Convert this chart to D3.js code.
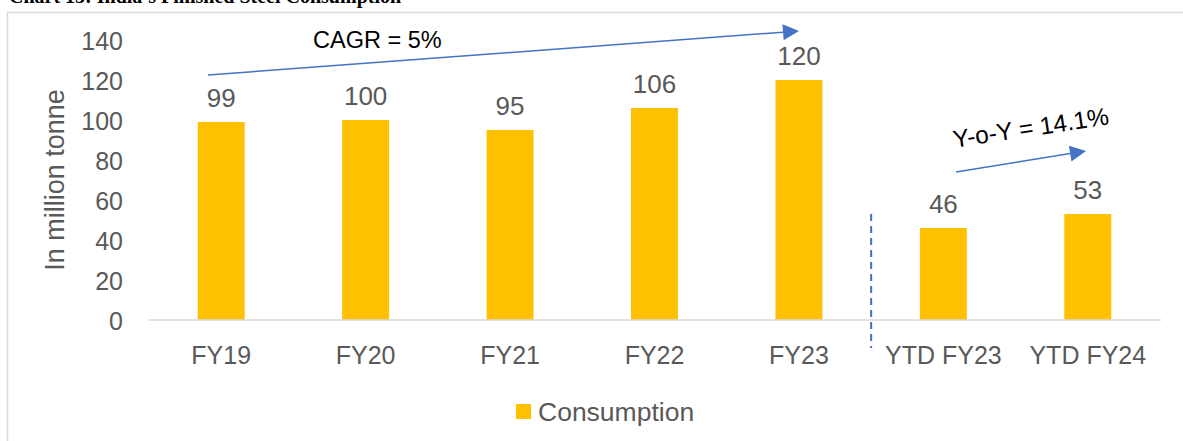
<!DOCTYPE html>
<html>
<head>
<meta charset="utf-8">
<script src="https://cdn.jsdelivr.net/npm/d3@7"></script>
<style>
  html, body { margin: 0; padding: 0; background: #fff; }
  svg { display: block; }
  text { font-family: "Liberation Sans", "DejaVu Sans", sans-serif; }
</style>
</head>
<body>
<svg id="chart" width="1183" height="441"></svg>
<script>
// ---- data ----
const categories = ["FY19", "FY20", "FY21", "FY22", "FY23", "YTD FY23", "YTD FY24"];
const consumption = [99, 100, 95, 106, 120, 46, 53];
const yTicks = [0, 20, 40, 60, 80, 100, 120, 140];
const seriesName = "Consumption";
const yTitle = "In million tonne";
const chartTitle = "Chart 15: India\u2019s Finished Steel Consumption";
const cagrText = "CAGR = 5%";
const yoyText = "Y-o-Y = 14.1%";

// ---- setup ----
const svg = d3.select("#chart");
const W = 1183, H = 441;
const gray = "#595959", gold = "#FFC000", blue = "#4472C4";

svg.append("rect").attr("width", W).attr("height", H).attr("fill", "#fff");

// outer frame (partially cropped)
svg.append("rect")
  .attr("x", 7.5).attr("y", 12.5)
  .attr("width", W + 20).attr("height", H + 20)
  .attr("fill", "none").attr("stroke", "#d9d9d9").attr("stroke-width", 1.5);

// cropped title
svg.append("text")
  .attr("x", 9).attr("y", 3)
  .attr("font-weight", "bold").attr("font-size", 20)
  .style("font-family", "'Liberation Serif', serif")
  .attr("fill", "#000")
  .text(chartTitle);

const x = d3.scaleBand()
  .domain(categories)
  .range([149, 1160])
  .paddingInner(0.675)
  .paddingOuter(0.3375);

const y = d3.scaleLinear().domain([0, 140]).range([320, 40]);

// y axis labels
const yAxis = d3.axisLeft(y).tickValues(yTicks).tickSize(0).tickPadding(0);
const gy = svg.append("g").attr("transform", "translate(123,0)").call(yAxis);
gy.select(".domain").remove();
gy.selectAll("text")
  .attr("fill", gray).attr("font-size", 25)
  .style("font-family", "'Liberation Sans', sans-serif")
  .attr("dy", "0.36em");

// bars
svg.append("g").selectAll("rect")
  .data(consumption)
  .join("rect")
  .attr("x", (d, i) => x(categories[i]))
  .attr("y", d => y(d))
  .attr("width", x.bandwidth())
  .attr("height", d => y(0) - y(d))
  .attr("fill", gold);

// baseline / x axis
const xAxis = d3.axisBottom(x).tickSize(0).tickPadding(0);
const gx = svg.append("g").attr("transform", `translate(0,${y(0)})`).call(xAxis);
gx.select(".domain").attr("stroke", "#d9d9d9").attr("stroke-width", 1.5)
  .attr("d", `M149,0H1161`);
gx.selectAll("text")
  .attr("fill", gray).attr("font-size", 25)
  .style("font-family", "'Liberation Sans', sans-serif")
  .attr("y", 44).attr("dy", 0);

// data labels
svg.append("g").selectAll("text")
  .data(consumption)
  .join("text")
  .attr("x", (d, i) => x(categories[i]) + x.bandwidth() / 2)
  .attr("y", d => y(d) - 15)
  .attr("text-anchor", "middle")
  .attr("fill", gray).attr("font-size", 26)
  .text(d => d);

// y title
svg.append("text")
  .attr("transform", "translate(64,180) rotate(-90)")
  .attr("text-anchor", "middle")
  .attr("fill", gray).attr("font-size", 27)
  .text(yTitle);

// dashed separator
const sepX = (x("FY23") + x.bandwidth() + x("YTD FY23")) / 2;
svg.append("line")
  .attr("x1", sepX).attr("x2", sepX)
  .attr("y1", 214).attr("y2", 348)
  .attr("stroke", blue).attr("stroke-width", 2)
  .attr("stroke-dasharray", "7,5");

// arrow helper
function arrow(x1, y1, x2, y2, head) {
  const ang = Math.atan2(y2 - y1, x2 - x1);
  const bx = x2 - head * Math.cos(ang), by = y2 - head * Math.sin(ang);
  svg.append("line")
    .attr("x1", x1).attr("y1", y1).attr("x2", bx).attr("y2", by)
    .attr("stroke", blue).attr("stroke-width", 1.5);
  const w = head / 2;
  const px = -Math.sin(ang) * w, py = Math.cos(ang) * w;
  svg.append("path")
    .attr("d", `M${x2},${y2}L${bx + px},${by + py}L${bx - px},${by - py}Z`)
    .attr("fill", blue);
}

// CAGR annotation
arrow(208, 75, 799, 31, 16);
svg.append("text")
  .attr("x", 313).attr("y", 48)
  .attr("fill", "#000").attr("font-size", 23.5)
  .text(cagrText);

// Y-o-Y annotation
arrow(956, 172, 1086, 151, 16);
svg.append("text")
  .attr("transform", "translate(1032,136) rotate(-8.5)")
  .attr("text-anchor", "middle")
  .attr("fill", "#000").attr("font-size", 24.5)
  .text(yoyText);

// legend
svg.append("rect")
  .attr("x", 516).attr("y", 404).attr("width", 15).attr("height", 15)
  .attr("fill", gold);
svg.append("text")
  .attr("x", 538).attr("y", 421)
  .attr("fill", gray).attr("font-size", 26.5)
  .text(seriesName);
</script>
</body>
</html>
